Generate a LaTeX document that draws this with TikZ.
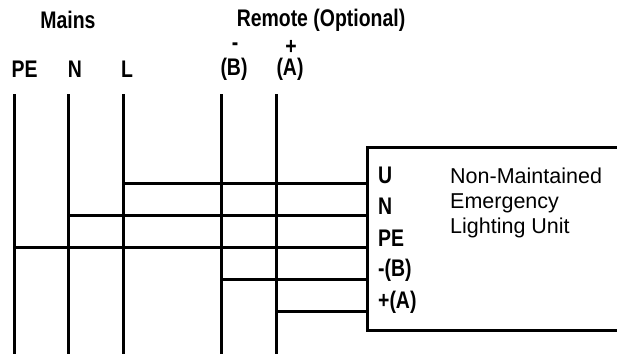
\documentclass[tikz,border=0pt]{standalone}
\usepackage{fontspec}
\setmainfont{Liberation Sans}
\usetikzlibrary{positioning}

\tikzset{
  wire/.style={line width=2.2pt},
  headlabel/.style={font=\bfseries\fontsize{24}{24}\selectfont, inner sep=0pt, transform shape, xscale=0.81},
  termlabel/.style={headlabel, anchor=west},
}

\begin{document}
\begin{tikzpicture}[x=1pt,y=-1pt]
  \useasboundingbox (0,0) rectangle (617,354);
  % top row of labels
  \node[headlabel] (mains) at (68,20) {Mains};
  \node[headlabel] (remote) at (321,20) {Remote (Optional)};
  \node[headlabel] (minus) at (235,47) {-};
  \node[headlabel] (plus) at (291,47) {+};
  \node[headlabel] (pe) at (24.5,69) {PE};
  \node[headlabel] (n) at (75,69) {N};
  \node[headlabel] (l) at (127,69) {L};
  \node[headlabel] (b) at (234,69) {(B)};
  \node[headlabel] (a) at (290,69) {(A)};
  % unit
  \node[draw, line width=2.5pt, minimum width=260pt, minimum height=183pt, anchor=north west, inner sep=0pt] (unit) at (366,146) {};
  \node[termlabel] (tu) at (378,175) {U};
  \node[termlabel] (tn) at (378,206) {N};
  \node[termlabel] (tpe) at (378,238) {PE};
  \node[termlabel] (tb) at (378,270) {-(B)};
  \node[termlabel] (ta) at (378,302) {+(A)};
  \node[anchor=north west, inner sep=0pt, align=left, font=\fontsize{21.5}{25}\selectfont] (title) at (450,167.5) {Non-Maintained\\Emergency\\Lighting Unit};
  % wires
  \foreach \name/\xpos in {pe/14.5, n/68.5, l/123.5, b/221.5, a/276.5} {
    \coordinate (\name top) at (\xpos,94);
    \coordinate (\name bot) at (\xpos,354);
    \draw[wire] (\name top) -- (\name bot);
  }
  \foreach \name/\term/\ypos in {l/u/183.5, n/n/215.5, pe/pe/247.5, b/b/279.5, a/a/311.5} {
    \coordinate (\term start) at (\name top |- 0,\ypos);
    \coordinate (\term end) at (unit.west |- 0,\ypos);
    \draw[wire] (\term start) -- (\term end);
  }
\end{tikzpicture}
\end{document}
